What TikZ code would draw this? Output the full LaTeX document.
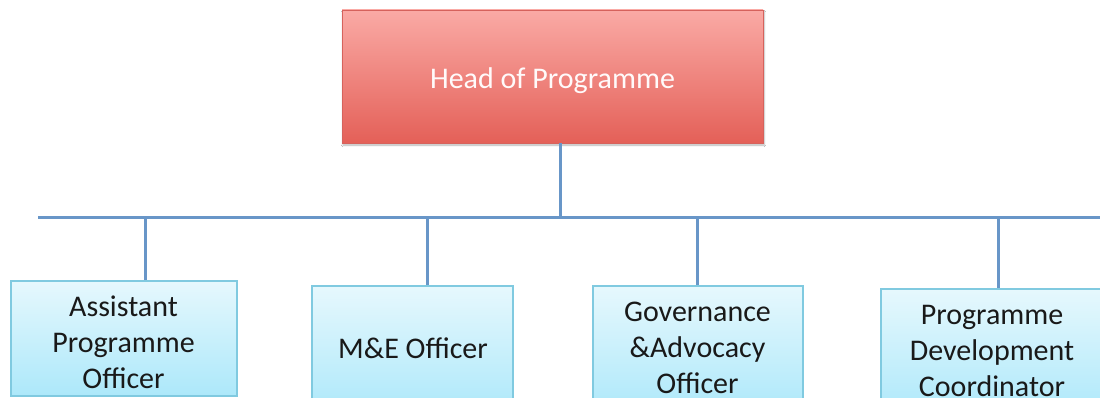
\documentclass[tikz,border=0pt]{standalone}
\usepackage{fontspec}
\setmainfont{Carlito}
\usetikzlibrary{shadows.blur}
\definecolor{headtop}{RGB}{250,170,165}
\definecolor{headbot}{RGB}{228,96,88}
\definecolor{headedge}{RGB}{214,98,92}
\definecolor{stafftop}{RGB}{230,248,253}
\definecolor{staffbot}{RGB}{172,232,250}
\definecolor{staffedge}{RGB}{128,202,224}
\definecolor{linkblue}{RGB}{104,150,200}
\definecolor{inktext}{RGB}{25,25,25}
\tikzset{
  headbox/.style={rectangle, draw=headedge, line width=0.6pt,
    top color=headtop, bottom color=headbot,
    blur shadow={shadow xshift=1pt, shadow yshift=-2pt, shadow blur steps=6, shadow opacity=30}},
  staffbox/.style={rectangle, draw=staffedge, line width=1.2pt,
    top color=stafftop, bottom color=staffbot},
  lbl/.style={font=\fontsize{30}{36}\selectfont, align=center, inner sep=0pt},
  link/.style={draw=linkblue, line width=3pt}
}
\begin{document}
\begin{tikzpicture}[x=1pt, y=-1pt]
  \useasboundingbox (0,0) rectangle (1100,398);
  \clip (0,0) rectangle (1100,398);
  \fill[white] (0,0) rectangle (1100,398);

  % head of the programme
  \node[headbox, minimum width=421pt, minimum height=133pt] (head) at (552.5,76.5) {};
  \node[lbl, text=white!94!headtop] (headtxt) at (552.5,81) {Head of Programme};

  % staff boxes (run past the lower edge)
  \node[staffbox, minimum width=226pt, minimum height=115pt] (apo) at (124,338.5) {};
  \node[staffbox, minimum width=201pt, minimum height=130pt] (me)  at (412.5,351) {};
  \node[staffbox, minimum width=210pt, minimum height=130pt] (gov) at (698,351) {};
  \node[staffbox, minimum width=240pt, minimum height=130pt] (pdc) at (1001,354) {};

  \node[lbl, text=inktext] (apotxt) at (123.5,342) {Assistant\\Programme\\Officer};
  \node[lbl, text=inktext] (metxt)  at (413,348) {M\&E Officer};
  \node[lbl, text=inktext] (govtxt) at (697.5,347.5) {Governance\\\&Advocacy\\Officer};
  \node[lbl, text=inktext] (pdctxt) at (992,350.5) {Programme\\Development\\Coordinator};

  % reporting lines
  \coordinate (headfoot) at ([xshift=7.5pt]head.south);
  \coordinate (busL) at (38,218);
  \coordinate (busR) at (1100,218);
  \coordinate (busC) at (headfoot |- busL);
  \draw[link] (busL) -- (busR);
  \draw[link] (headfoot) -- (busC);
  \draw[link] (145,218) -- (apo.north -| 145,0);
  \draw[link] (427,218) -- (me.north -| 427,0);
  \draw[link] (697,218) -- (gov.north -| 697,0);
  \draw[link] (998,218) -- (pdc.north -| 998,0);
\end{tikzpicture}
\end{document}
